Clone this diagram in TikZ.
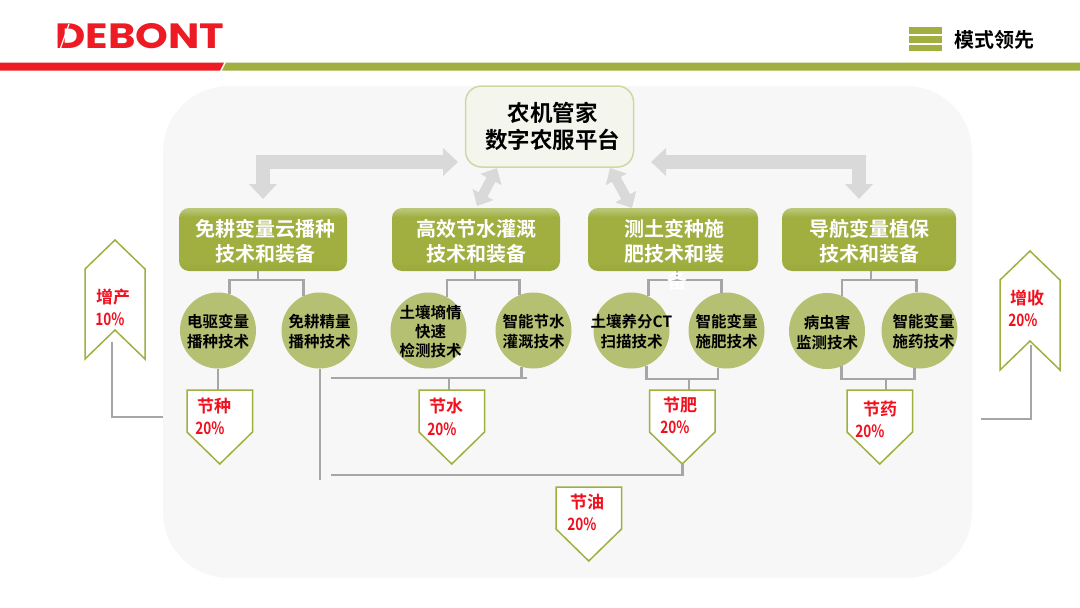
\documentclass[tikz,border=0pt]{standalone}
\usepackage{fontspec}
\setmainfont{Noto Sans CJK SC}[BoldFont=Noto Sans CJK SC Bold]
\newfontfamily\logofont{Poppins}[BoldFont=Poppins Bold]
\usetikzlibrary{arrows.meta,calc}
\definecolor{brandred}{HTML}{ED1C24}
\definecolor{olive}{HTML}{A0AF40}
\definecolor{olivetop}{HTML}{B9C678}
\definecolor{olivedark}{HTML}{9AA93C}
\definecolor{circ}{HTML}{B5C073}
\definecolor{treegrey}{HTML}{A6A6A6}
\definecolor{arrowgrey}{HTML}{D9D9D9}
\definecolor{panel}{HTML}{F7F7F7}
\definecolor{topfill}{HTML}{F4F6EE}
\definecolor{topline}{HTML}{CFD8A5}
\definecolor{txtred}{HTML}{F0101E}
\pgfdeclareverticalshading{hdrshade}{100bp}{color(0bp)=(olivedark); color(25bp)=(olivedark); color(32bp)=(olive); color(68bp)=(olive); color(74bp)=(olivetop); color(100bp)=(olivetop)}
\newcommand{\hs}{\rule{0pt}{21.6pt}}
\newcommand{\ts}{\rule{0pt}{15.6pt}}
\tikzset{
  header/.style={rounded corners=10pt,draw=none,shade,shading=hdrshade,
    text=white,align=center,inner sep=0pt,font=\fontsize{20}{25}\selectfont\bfseries},
  tech/.style={circle,fill=circ,minimum size=76pt,inner sep=-12pt,align=center,text=black,
    font=\fontsize{15.5}{20}\selectfont\bfseries},
  tree/.style={draw=treegrey,line width=2.8pt},
  bigarrow/.style={draw=arrowgrey,line width=14pt,line join=miter,
    {Triangle[length=15pt,width=27pt]}-{Triangle[length=15pt,width=27pt]}},
  diagarrow/.style={draw=arrowgrey,line width=10pt,{Triangle[length=13pt,width=23pt]}-{Triangle[length=13pt,width=23pt]}},
  tagshape/.style={draw=olive,fill=white,line width=1.5pt,line join=miter},
  taglabel/.style={text=txtred,inner sep=0pt,font=\fontsize{17}{17}\selectfont\bfseries},
  anchorbox/.style={inner sep=0pt,minimum width=#1,minimum height=74pt},
  bar/.style={fill=olive,draw=none},
}
\newcommand{\pct}[1]{\scalebox{.8}[1]{#1}}
% name, left x, top y, label, lx, ly, pct, px, py
\newcommand{\downtag}[9]{%
  \path[tagshape] (#2,#3) -- ++(65.5,0) -- ++(0,42) -- ++(-32.75,32) -- ++(-32.75,-32) -- cycle;
  \node[anchorbox=65.5pt] (#1) at ($(#2,#3)+(32.75,37)$) {};
  \node[taglabel] (#1a) at (#5,#6) {#4};
  \node[taglabel] (#1b) at (#8,#9) {\pct{#7}};
}
% name, left x, apex y, label, lx, ly, pct, px, py
\newcommand{\uptag}[9]{%
  \path[tagshape] (#2,#3+29) -- ++(30,-29) -- ++(30,29) -- ++(0,90) -- ++(-30,-29) -- ++(-30,29) -- cycle;
  \node[inner sep=0pt,minimum width=60pt,minimum height=119pt] (#1) at ($(#2,#3)+(30,59.5)$) {};
  \node[taglabel] (#1a) at (#5,#6) {#4};
  \node[taglabel] (#1b) at (#8,#9) {\pct{#7}};
}
\begin{document}
\begin{tikzpicture}[x=1pt,y=-1pt]
\useasboundingbox (0,0) rectangle (1080,608);
% page furniture
\fill[white] (0,0) rectangle (1080,608);
\fill[olive] (226,62.5) -- (1080,62.5) -- (1080,70.5) -- (222,70.5) -- cycle;
\fill[brandred] (0,62.5) -- (224,62.5) -- (220,70.5) -- (0,70.5) -- cycle;
\node[anchor=west,inner sep=0pt,text=brandred] (logo) at (55,36.5)
  {\resizebox{169pt}{25pt}{\logofont\bfseries DEBONT}};
\draw[white,line width=1.2pt] (60,49.5) -- (69,24);
\fill[bar] (909,27) rectangle (942,34);
\fill[bar] (909,36) rectangle (942,42.5);
\fill[bar] (909,45) rectangle (942,51);
\node[inner sep=0pt,font=\fontsize{20}{20}\selectfont\bfseries] (mode) at (994,40) {模式领先};
% panel
\fill[panel,rounded corners=66pt] (163,86) rectangle (972,578);

% nodes
\node[rounded corners=16pt,draw=topline,fill=topfill,line width=1.5pt,
  minimum width=168pt,minimum height=81pt,inner sep=0pt,align=center,
  font=\fontsize{22.5}{27}\selectfont\bfseries] (top) at (549.5,126.5) {\hspace*{6pt}农机管家\\\hspace*{6pt}数字农服平台};

\node[header,minimum width=168pt,minimum height=63pt] (h1) at (263,239.5) {\hs\hspace*{4pt}免耕变量云播种\\\hspace*{4pt}技术和装备};
\node[header,minimum width=168pt,minimum height=63pt] (h2) at (476,239.5) {\hs 高效节水灌溉\\技术和装备};
\node[header,minimum width=170pt,minimum height=63pt] (h3) at (673,239.5) {\hs\hspace*{3pt}测土变种施\\\hspace*{3pt}肥技术和装};
\node[header,minimum width=174pt,minimum height=63pt] (h4) at (869,239.5) {\hs 导航变量植保\\技术和装备};

\node[tech] (c1) at (218,330.5) {\ts 电驱变量\\播种技术};
\node[tech] (c2) at (319.5,330.5) {\ts 免耕精量\\播种技术};
\node[tech,font=\fontsize{15.5}{19}\selectfont\bfseries] (c3) at (428.5,330.5) {\ts\hspace*{4pt}土壤墒情\\\hspace*{4pt}快速\\\hspace*{4pt}检测技术};
\node[tech] (c4) at (533.5,330.5) {\ts 智能节水\\灌溉技术};
\node[tech] (c5) at (631.5,330.5) {\ts 土壤养分CT\\扫描技术};
\node[tech] (c6) at (726.5,330.5) {\ts 智能变量\\施肥技术};
\node[tech] (c7) at (827,331) {\ts 病虫害\\监测技术};
\node[tech] (c8) at (919.5,330.5) {\ts\hspace*{8pt}智能变量\\\hspace*{8pt}施药技术};

\downtag{jz}{187}{390}{节种}{214}{406}{20\%}{210}{428}
\downtag{js}{419}{390}{节水}{446}{406}{20\%}{442}{429}
\downtag{jf}{649.5}{390}{节肥}{680}{405}{20\%}{675}{427}
\downtag{jy}{847}{390}{节药}{880}{409}{20\%}{870}{431}
\downtag{jo}{556}{487}{节油}{587}{502}{20\%}{582}{524}
\uptag{zc}{85}{240}{增产}{113}{297}{10\%}{110}{319}
\uptag{zs}{1000}{251}{增收}{1027}{298}{20\%}{1023}{320}

% coordinates
\coordinate (t1) at (258,280);
\coordinate (t2) at (475,280);
\coordinate (t3) at (677,280);
\coordinate (t4) at (871,280);
\coordinate (b2) at (449,378);
\coordinate (b3) at (689,379);
\coordinate (b4) at (886,379);
\coordinate (w1) at (331,378);
\coordinate (w2) at (527,378);
\coordinate (c2end) at (320,480);
\coordinate (oil1) at (331,475);
\coordinate (zcs) at (112,342);
\coordinate (zce) at (163,417);
\coordinate (zss) at (1031,345);
\coordinate (zse) at (981,419);
\coordinate (la) at (458,162);
\coordinate (ld) at (263,199);
\coordinate (ra) at (651,162);
\coordinate (rd) at (859,199);
\coordinate (d1a) at (497,168);
\coordinate (d1b) at (477,206);
\coordinate (d2a) at (610,168);
\coordinate (d2b) at (632,208);

% connectors
\draw[bigarrow] (ld) |- (la);
\draw[bigarrow] (rd) |- (ra);
\draw[diagarrow] (d1a) -- (d1b);
\draw[diagarrow] (d2a) -- (d2b);

\draw[tree] (h1.south -| t1) -- (t1);
\draw[tree] (c1.72) |- (t1);
\draw[tree] (c2.115) |- (t1);
\draw[tree] (h2.south -| t2) -- (t2);
\draw[tree] (c3.61) |- (t2);
\draw[tree] (c4.111) |- (t2);
\draw[tree] (h3.south -| t3) -- (t3);
\draw[tree] (c5.63) |- (t3);
\draw[tree] (c6.97) |- (t3);
\draw[tree] (h4.south -| t4) -- (t4);
\draw[tree] (c7.67) |- (t4);
\draw[tree] (c8.95) |- (t4);

\draw[tree] (c1.south) -- (c1.south |- jz.north);
\draw[tree] (c2end |- c2.south) -- (c2end);
\draw[tree] (w1) -- (w2);
\draw[tree] (c4.-108) -- (c4.-108 |- w1);
\draw[tree] (b2) -- (b2 |- js.north);
\draw[tree] (c5.-67.5) |- (b3);
\draw[tree] (c6.-103) |- (b3);
\draw[tree] (b3) -- (b3 |- jf.north);
\draw[tree] (c7.-68) |- (b4);
\draw[tree] (c8.-98) |- (b4);
\draw[tree] (b4) -- (b4 |- jy.north);
\draw[tree] (jf.south) |- (oil1);
\draw[tree] (zcs) |- (zce);
\draw[tree] (zss) |- (zse);
\node[inner sep=0pt,text=white,font=\fontsize{20}{20}\selectfont\bfseries] (h3x) at (677,281) {备};
\end{tikzpicture}
\end{document}
